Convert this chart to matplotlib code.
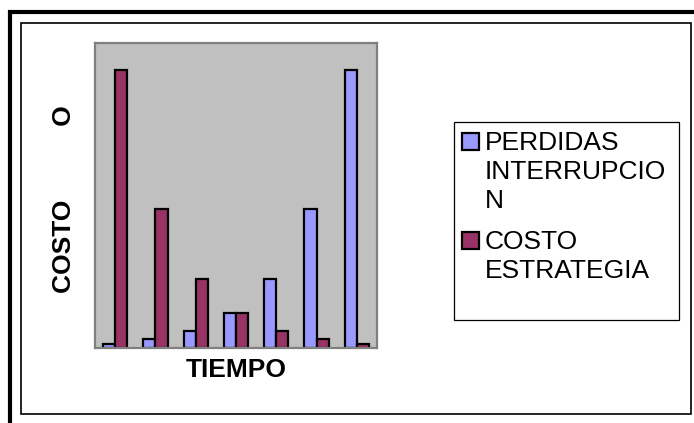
import numpy as np
import matplotlib
matplotlib.use('Agg')
import matplotlib.pyplot as plt
from matplotlib.patches import Rectangle

# =============================================================================
# DATA
# =============================================================================
periods = ['1', '2', '3', '4', '5', '6', '7']
perdidas = [125, 250, 500, 1000, 2000, 4000, 8000]
costo = [8000, 4000, 2000, 1000, 500, 250, 125]
series_labels = ['PERDIDAS\nINTERRUPCIO\nN', 'COSTO\nESTRATEGIA']
series_colors = ['#9999FF', '#993366']
xlabel = 'TIEMPO'
ylabel = 'COSTO          O'

# =============================================================================
# FIGURE
# =============================================================================
W, H = 694, 423
dpi = 100
fig = plt.figure(figsize=(W / dpi, H / dpi), dpi=dpi)
fig.patch.set_facecolor('white')

def px(x, y, w=0, h=0):
    """pixel box (top-left origin) -> figure fraction"""
    return [x / W, 1 - (y + h) / H, w / W, h / H]

font = 'Liberation Sans'
fs = 19.0

# outer frames
fig.patches.append(Rectangle((10 / W, -0.1), (W + 20) / W, 1.1 - 12 / H,
                             transform=fig.transFigure, fill=False,
                             edgecolor='black', lw=3.0, joinstyle='miter', zorder=0))
fig.patches.append(Rectangle((21 / W, 1 - 414 / H), (691 - 21) / W, (414 - 23) / H,
                             transform=fig.transFigure, fill=False,
                             edgecolor='black', lw=1.2, joinstyle='miter', zorder=0))

# plot area
ax = fig.add_axes(px(95, 43, 282, 305))
ax.set_facecolor('#C0C0C0')
for s in ax.spines.values():
    s.set_color('#808080')
    s.set_linewidth(1.6)

x = np.arange(len(periods))
bw = 0.3
ax.bar(x - bw / 2, perdidas, bw, color=series_colors[0], edgecolor='black', lw=1.6)
ax.bar(x + bw / 2, costo, bw, color=series_colors[1], edgecolor='black', lw=1.6)
ax.set_xlim(-0.5, len(periods) - 0.5)
ax.set_ylim(0, 8780)
ax.set_xticks([])
ax.set_yticks([])

# axis titles
fig.text(236 / W, 1 - 370 / H, xlabel, fontfamily=font, fontweight='bold',
         fontsize=fs, ha='center', va='center')
fig.text(64 / W, 1 - 199 / H, ylabel, fontfamily=font, fontweight='bold',
         fontsize=fs, ha='center', va='center', rotation=90)

# legend
fig.patches.append(Rectangle((454 / W, 1 - 320 / H), (679 - 454) / W, (320 - 122) / H,
                             transform=fig.transFigure, facecolor='white',
                             edgecolor='black', lw=0.9, zorder=1))
square_tops = [133, 232]
for top, lab, col in zip(square_tops, series_labels, series_colors):
    fig.patches.append(Rectangle((462 / W, 1 - (top + 17) / H), 17 / W, 17 / H,
                                 transform=fig.transFigure, facecolor=col,
                                 edgecolor='black', lw=1.6, zorder=2))
    fig.text(485 / W, 1 - (top - 2) / H, lab, fontfamily=font, fontsize=fs,
             ha='left', va='top', linespacing=1.25, zorder=3)

fig.savefig('out.png', dpi=dpi)
